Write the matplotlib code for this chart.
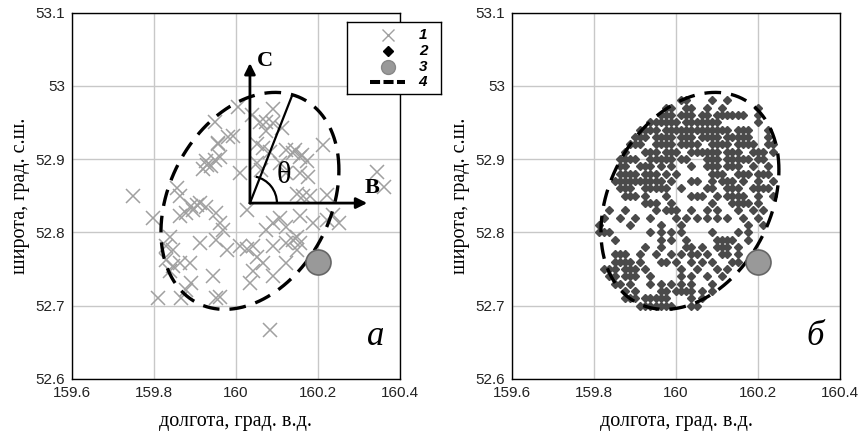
import numpy as np
import matplotlib
matplotlib.use("Agg")
import matplotlib.pyplot as plt
from matplotlib.patches import Arc

# ---------- данные ----------
x_ticks = [159.6, 159.8, 160.0, 160.2, 160.4]
x_tick_labels = ["159.6", "159.8", "160", "160.2", "160.4"]
y_ticks = [52.6, 52.7, 52.8, 52.9, 53.0, 53.1]
y_tick_labels = ["52.6", "52.7", "52.8", "52.9", "53", "53.1"]

# 1 - эпицентры (панель а)
epi_lon = [159.749, 159.798, 159.810, 159.867, 159.952, 159.962, 160.083, 160.344, 160.360,
           160.250, 160.237, 160.005, 160.091, 159.948, 160.058, 160.074, 160.091, 160.111,
           159.993, 159.956, 160.050, 160.066, 160.083, 160.123, 160.140, 160.156, 160.172,
           160.213, 159.928, 159.940, 159.948, 159.920, 159.960, 160.009, 160.050, 160.062,
           160.107, 160.123, 160.156, 160.176, 160.148, 160.164, 160.180, 160.221, 159.855,
           159.863, 159.912, 159.928, 159.895, 159.879, 159.863, 159.952, 159.960, 159.969,
           160.026, 160.091, 160.107, 160.074, 160.123, 160.156, 160.188, 160.221, 159.838,
           159.830, 159.846, 159.830, 159.846, 159.838, 159.863, 159.887, 159.912, 159.952,
           159.977, 160.009, 160.026, 160.042, 160.050, 160.066, 160.091, 160.123, 160.140,
           160.156, 160.148, 159.944, 160.034, 160.042, 160.091, 160.123, 159.891, 159.879,
           160.148, 160.160, 160.145, 159.905, 159.890, 160.040, 160.074, 159.980, 159.956,
           159.930]
epi_lat = [52.849, 52.819, 52.710, 52.710, 52.710, 52.712, 52.667, 52.882, 52.862,
           52.813, 52.824, 52.971, 52.969, 52.951, 52.951, 52.951, 52.949, 52.942,
           52.931, 52.921, 52.921, 52.915, 52.910, 52.912, 52.908, 52.903, 52.897,
           52.919, 52.897, 52.890, 52.899, 52.887, 52.903, 52.881, 52.894, 52.885,
           52.894, 52.881, 52.881, 52.876, 52.853, 52.849, 52.849, 52.851, 52.860,
           52.849, 52.840, 52.835, 52.831, 52.826, 52.822, 52.826, 52.813, 52.803,
           52.831, 52.813, 52.819, 52.803, 52.808, 52.822, 52.813, 52.817, 52.794,
           52.781, 52.776, 52.763, 52.754, 52.747, 52.758, 52.758, 52.785, 52.790,
           52.776, 52.781, 52.778, 52.781, 52.767, 52.758, 52.781, 52.785, 52.790,
           52.785, 52.794, 52.740, 52.731, 52.747, 52.740, 52.758, 52.731, 52.722,
           52.776, 52.906, 52.912, 52.838, 52.836, 52.960, 52.938, 52.930, 52.922,
           52.892]

# 2 - узлы сетки (панель б): широта строки и номера занятых столбцов
grid_lon0 = 159.80
grid_lon_step = 0.0125
grid_lat = [52.98, 52.97, 52.96, 52.95, 52.94, 52.93, 52.92, 52.91, 52.90, 52.89,
            52.88, 52.87, 52.86, 52.85, 52.84, 52.83, 52.82, 52.81, 52.80, 52.79,
            52.78, 52.77, 52.76, 52.75, 52.74, 52.73, 52.72, 52.71, 52.70]
grid_cols = [
    [17, 18, 23, 26],
    [14, 15, 18, 19, 22, 25, 32],
    [13, 14, 15, 17, 18, 19, 21, 22, 24, 25, 26, 27, 28, 29, 32],
    [11, 12, 13, 14, 15, 16, 18, 19, 20, 21, 22, 23, 24, 32],
    [9, 10, 11, 12, 14, 15, 16, 17, 18, 19, 20, 21, 22, 23, 24, 25, 26, 28, 29, 30, 34],
    [8, 9, 10, 12, 13, 14, 15, 17, 18, 19, 21, 22, 23, 24, 26, 27, 28, 29, 30, 34],
    [7, 8, 9, 12, 13, 14, 15, 17, 18, 19, 20, 23, 24, 25, 26, 28, 29, 30, 31, 34, 35],
    [6, 10, 11, 12, 14, 15, 16, 19, 20, 21, 22, 23, 24, 26, 27, 28, 31, 32, 33, 35],
    [5, 6, 7, 8, 11, 12, 13, 14, 15, 17, 18, 22, 23, 24, 26, 27, 28, 29, 30, 32, 33],
    [5, 6, 9, 10, 11, 13, 15, 19, 22, 23, 24, 26, 27, 28, 31, 34],
    [5, 6, 7, 8, 10, 11, 12, 14, 16, 23, 24, 25, 28, 29, 30, 32, 33, 34],
    [4, 5, 6, 7, 8, 9, 10, 11, 12, 13, 15, 19, 20, 23, 25, 26, 27, 29, 32, 35],
    [5, 6, 7, 10, 11, 12, 13, 14, 17, 22, 23, 26, 27, 28, 31, 32, 33, 34],
    [6, 7, 8, 10, 14, 19, 20, 21, 24, 26, 27, 28, 29, 32, 35],
    [10, 11, 12, 15, 23, 27, 28, 29, 30, 32],
    [3, 6, 12, 14, 15, 16, 19, 22, 24, 28, 31, 33],
    [2, 5, 8, 11, 16, 18, 20, 22, 24, 26, 29, 32],
    [1, 7, 13, 17, 30, 33],
    [1, 2, 3, 11, 13, 15, 17, 23, 28, 30],
    [4, 13, 15, 18, 24, 25, 26, 27, 30],
    [10, 13, 18, 19, 21, 24, 25, 26, 28],
    [4, 5, 6, 9, 12, 15, 17, 19, 20, 22, 25, 26, 28],
    [4, 5, 6, 7, 9, 13, 14, 16, 19, 21, 23, 27, 28],
    [2, 3, 4, 6, 7, 8, 10, 17, 20, 24, 26],
    [3, 4, 6, 7, 8, 11, 17, 19, 22, 25],
    [4, 5, 7, 11, 13, 15, 17, 19, 23],
    [6, 8, 13, 14, 16, 17, 18, 19, 21, 23],
    [6, 7, 8, 10, 11, 12, 13, 14, 19, 21],
    [9, 10, 11, 12, 13, 14, 15, 19, 20],
]

# 3 - станция
station_lon = 160.20
station_lat = 52.76

# 4 - эллипс: центр, полуоси по долготе/широте, фазовый сдвиг
ell_cx, ell_cy = 160.034, 52.843
ell_ax, ell_ay = 0.217, 0.148
ell_phi_deg = 73.5

# оси С-В и направление theta (панель а)
axes_origin = (160.034, 52.840)
north_tip = (160.034, 53.031)
east_tip = (160.320, 52.840)
theta_end = (160.137, 52.987)

legend_labels = ["1", "2", "3", "4"]

# ---------- построение ----------
serif = ["Liberation Serif", "DejaVu Serif"]
sans = ["Liberation Sans", "DejaVu Sans"]

plt.rcParams["font.family"] = sans

W, H = 861, 443
fig = plt.figure(figsize=(W / 100, H / 100), dpi=100)

ax_l, ax_r, ax_t, ax_b = 72, 400, 12.5, 379
axes = [
    fig.add_axes([ax_l / W, 1 - ax_b / H, (ax_r - ax_l) / W, (ax_b - ax_t) / H]),
    fig.add_axes([512 / W, 1 - ax_b / H, (ax_r - ax_l) / W, (ax_b - ax_t) / H]),
]

t = np.linspace(0, 2 * np.pi, 400)
phi = np.deg2rad(ell_phi_deg)
ell_x = ell_cx + ell_ax * np.cos(t)
ell_y = ell_cy + ell_ay * np.cos(t - phi)

for ax in axes:
    ax.set_xlim(159.6, 160.4)
    ax.set_ylim(52.6, 53.1)
    ax.set_xticks(x_ticks)
    ax.set_xticklabels(x_tick_labels)
    ax.set_yticks(y_ticks)
    ax.set_yticklabels(y_tick_labels)
    ax.tick_params(length=0, labelsize=11, pad=5, colors="#222222")
    ax.grid(True, color="#c8c8c8", lw=1)
    ax.set_axisbelow(True)
    for s in ax.spines.values():
        s.set_color("black")
        s.set_linewidth(1.0)
    ax.set_xlabel("долгота, град. в.д.", family=serif, fontsize=14.5)
    ax.set_ylabel("широта, град. с.ш.", family=serif, fontsize=14.5)
    ax.xaxis.set_label_coords(0.5, -0.09)
    ax.yaxis.set_label_coords(-0.128, 0.5)

    ax.plot(station_lon, station_lat, "o", ms=18, mfc="#999999", mec="#666666",
            mew=1.2, zorder=5)
    ax.plot(ell_x, ell_y, color="black", lw=2.4, dashes=(5, 3), zorder=4)

a1, a2 = axes

# панель а
a1.plot(epi_lon, epi_lat, "x", ms=9.5, mew=1.1, color="#a0a0a0", zorder=2)

arrow_kw = dict(arrowstyle="-|>", lw=2.0, color="black", mutation_scale=16,
                shrinkA=0, shrinkB=0)
a1.annotate("", xy=north_tip, xytext=axes_origin, arrowprops=arrow_kw, zorder=6)
a1.annotate("", xy=east_tip, xytext=axes_origin, arrowprops=arrow_kw, zorder=6)
a1.plot([axes_origin[0], theta_end[0]], [axes_origin[1], theta_end[1]],
        color="black", lw=1.6, zorder=6)

# дуга угла theta (радиус в пикселях)
px_lon = (ax_r - ax_l) / 0.8
px_lat = (ax_b - ax_t) / 0.5
r_px = 27
ang = np.degrees(np.arctan2((theta_end[1] - axes_origin[1]) * px_lat,
                            (theta_end[0] - axes_origin[0]) * px_lon))
a1.add_patch(Arc(axes_origin, 2 * r_px / px_lon, 2 * r_px / px_lat,
                 theta1=0, theta2=ang, lw=1.6, color="black", zorder=6))

a1.text(north_tip[0] + 0.037, north_tip[1] + 0.003, "С", family=serif,
        fontsize=16, fontweight="bold", ha="center", va="center")
a1.text(east_tip[0] + 0.013, east_tip[1] + 0.021, "В", family=serif,
        fontsize=16, fontweight="bold", ha="center", va="center")
a1.text(160.117, 52.878, "θ", family=serif, fontsize=22, ha="center",
        va="center", zorder=7)

a1.text(0.925, 0.115, "а", transform=a1.transAxes, family=serif,
        style="italic", fontsize=25, ha="center", va="center")

# панель б
grid_x, grid_y = [], []
for lat, cols in zip(grid_lat, grid_cols):
    for c in cols:
        grid_x.append(grid_lon0 + c * grid_lon_step)
        grid_y.append(lat)
a2.plot(grid_x, grid_y, "D", ms=4.2, color="#4a4a4a", mec="#4a4a4a", zorder=2)
a2.text(0.925, 0.115, "б", transform=a2.transAxes, family=serif,
        style="italic", fontsize=25, ha="center", va="center")

# легенда (отдельная рамка в пикселях, частично выходит за панель а)
lg = fig.add_axes([347 / W, 1 - 94 / H, 94 / W, 72 / H])
lg.set_xlim(0, 94)
lg.set_ylim(72, 0)
lg.set_xticks([])
lg.set_yticks([])
for s in lg.spines.values():
    s.set_color("black")
    s.set_linewidth(1.0)
lg.set_zorder(10)
lg.plot(41, 13, "x", ms=8.5, mew=1.0, color="#a0a0a0")
lg.plot(41, 29, "D", ms=5.5, color="black")
lg.plot(41, 45, "o", ms=10, mfc="#999999", mec="#888888")
lg.plot([23, 58], [60, 60], color="black", lw=2.9, dashes=(2.5, 0.85))
for y, lab in zip([13, 29, 45, 60], legend_labels):
    lg.text(76, y, lab, fontsize=11, fontweight="bold", style="italic",
            ha="center", va="center")

fig.savefig("out.png", dpi=100)
plt.close(fig)
